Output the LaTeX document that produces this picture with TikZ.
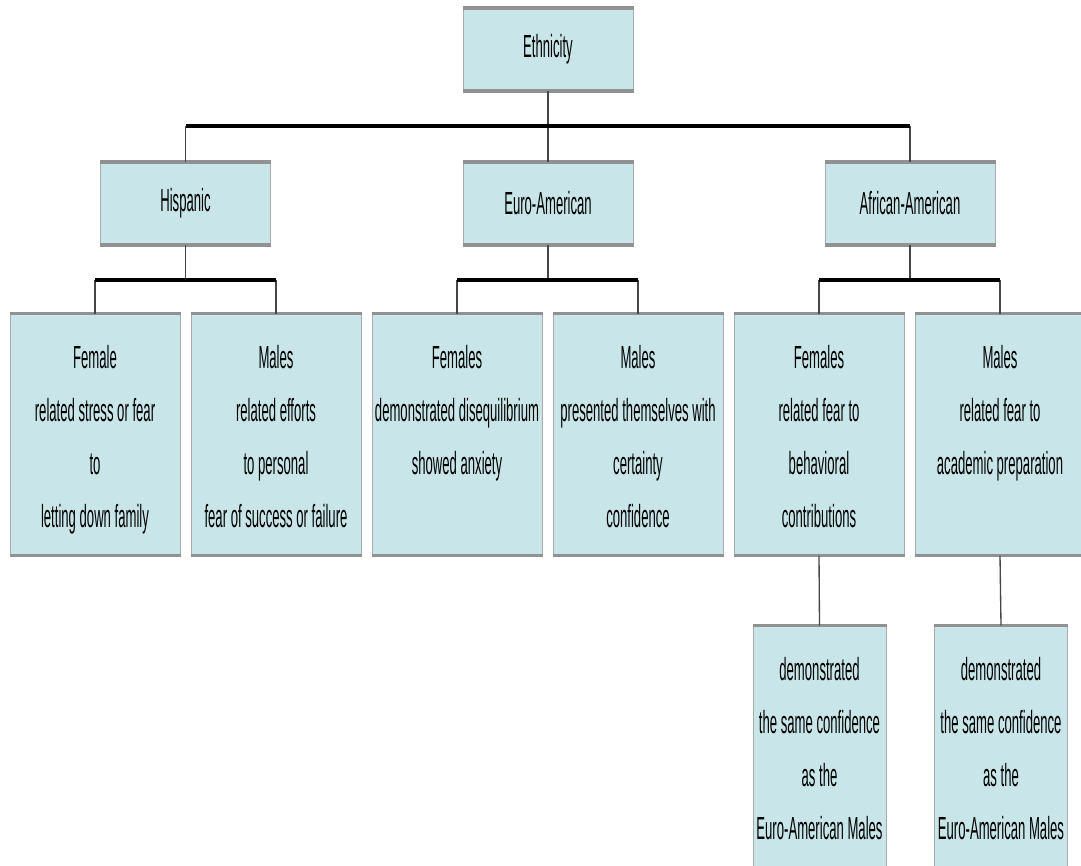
\documentclass[tikz,border=0pt]{standalone}
\usepackage{fontspec}
\setmainfont{Liberation Sans}[FakeStretch=0.41]
\definecolor{boxfill}{RGB}{200,229,233}
\definecolor{edgegray}{RGB}{145,145,145}
\definecolor{sidegray}{RGB}{170,170,170}
\definecolor{linkgray}{RGB}{70,70,70}
\begin{document}
\begin{tikzpicture}[x=0.75pt,y=-0.75pt,
  every node/.style={font=\fontsize{24}{39.75}\selectfont, text=black},
  box/.style={fill=boxfill, draw=sidegray, line width=0.75pt, inner sep=0pt},
  headbox/.style={box, minimum width=127.5pt, minimum height=61.5pt},
  leafbox/.style={box, minimum width=127.5pt, minimum height=180.75pt},
  notebox/.style={box, minimum width=99.75pt, minimum height=195pt},
  txt/.style={anchor=north, align=center, inner sep=0pt},
  rim/.style={draw=edgegray, line width=2.4pt},
  link/.style={draw=linkgray, line width=1pt},
  bar/.style={draw=black, line width=2.3pt}
]
\clip (0,0) rectangle (1081,865);
\fill[white] (0,0) rectangle (1081,865);

% level 1 and 2
\node[headbox] (eth) at (548,49.5) {Ethnicity};
\node[headbox] (his) at (185.5,203.5) {Hispanic};
\node[headbox] (eur) at (548,203.5) {Euro-American};
\node[headbox] (afr) at (910,203.5) {African-American};

% level 3
\node[leafbox] (hf) at (95,434.5) {};
\node[leafbox] (hm) at (276,434.5) {};
\node[leafbox] (ef) at (457,434.5) {};
\node[leafbox] (em) at (638,434.5) {};
\node[leafbox] (af) at (819,434.5) {};
\node[leafbox] (am) at (1000,434.5) {};

\node[txt] (hft) at (hf.north) {\rule{0pt}{41.25pt}Female\\related stress or fear\\to\\letting down family};
\node[txt] (hmt) at (hm.north) {\rule{0pt}{41.25pt}Males\\related efforts\\to personal\\fear of success or failure};
\node[txt] (eft) at (ef.north) {\rule{0pt}{41.25pt}Females\\demonstrated disequilibrium\\showed anxiety};
\node[txt] (emt) at (em.north) {\rule{0pt}{41.25pt}Males\\presented themselves with\\certainty\\confidence};
\node[txt] (aft) at (af.north) {\rule{0pt}{41.25pt}Females\\related fear to\\behavioral\\contributions};
\node[txt] (amt) at (am.north) {\rule{0pt}{41.25pt}Males\\related fear to\\academic preparation};

% level 4
\node[notebox] (afn) at (819.5,756) {};
\node[notebox] (amn) at (1001,756) {};
\node[txt] (afnt) at (afn.north) {\rule{0pt}{41.25pt}demonstrated\\the same confidence\\as the\\Euro-American Males};
\node[txt] (amnt) at (amn.north) {\rule{0pt}{41.25pt}demonstrated\\the same confidence\\as the\\Euro-American Males};

% thick top and bottom rims of the boxes
\foreach \b in {eth,his,eur,afr,hf,hm,ef,em,af,am,afn,amn}{
  \draw[rim] (\b.north west) -- (\b.north east);
  \draw[rim] (\b.south west) -- (\b.south east);
}

% connectors
\coordinate (j1) at (548,126);
\coordinate (j2) at (185.5,280);
\coordinate (j3) at (548,280);
\coordinate (j4) at (910,280);

\draw[link] (eth.south) -- (j1);
\draw[link] (his.north |- j1) -- (his.north);
\draw[link] (eur.north |- j1) -- (eur.north);
\draw[link] (afr.north |- j1) -- (afr.north);
\draw[bar] (his.north |- j1) -- (afr.north |- j1);

\draw[link] (his.south) -- (j2);
\draw[link] (hf.north |- j2) -- (hf.north);
\draw[link] (hm.north |- j2) -- (hm.north);
\draw[bar] (hf.north |- j2) -- (hm.north |- j2);

\draw[link] (eur.south) -- (j3);
\draw[link] (ef.north |- j3) -- (ef.north);
\draw[link] (em.north |- j3) -- (em.north);
\draw[bar] (ef.north |- j3) -- (em.north |- j3);

\draw[link] (afr.south) -- (j4);
\draw[link] (af.north |- j4) -- (af.north);
\draw[link] (am.north |- j4) -- (am.north);
\draw[bar] (af.north |- j4) -- (am.north |- j4);

\draw[link] (af.south) -- (afn.north);
\draw[link] (am.south) -- (amn.north);
\end{tikzpicture}
\end{document}
